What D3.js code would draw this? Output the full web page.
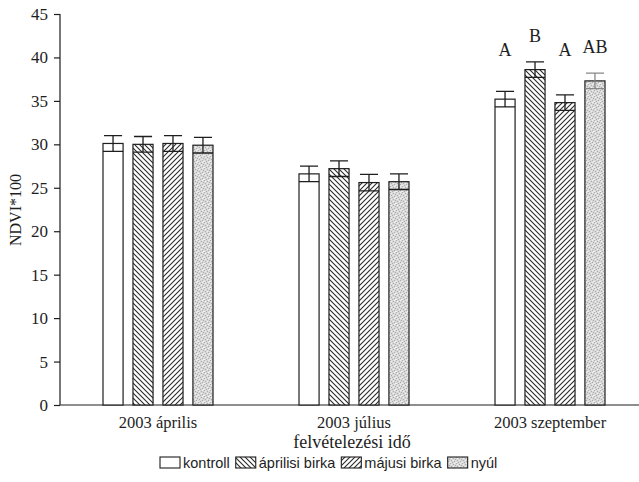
<!DOCTYPE html>
<html><head><meta charset="utf-8">
<script src="https://cdn.jsdelivr.net/npm/d3@7/dist/d3.min.js"></script>
<style>body{margin:0;background:#fff}svg{display:block}</style>
</head><body>
<svg id="c" width="639" height="482"></svg>
<script>
const groups = ["2003 április", "2003 július", "2003 szeptember"];
const series = ["kontroll", "áprilisi birka", "májusi birka", "nyúl"];
const means = [
  [30.1, 30.0, 30.1, 29.9],
  [26.6, 27.2, 25.6, 25.7],
  [35.2, 38.6, 34.8, 37.3]
];
const errs = [
  [0.9, 0.9, 0.9, 0.9],
  [0.9, 0.9, 0.95, 0.9],
  [0.9, 0.9, 0.9, 0.9]
];
const letters = [
  [null, null, null, null],
  [null, null, null, null],
  ["A", "B", "A", "AB"]
];
const yTicks = [0, 5, 10, 15, 20, 25, 30, 35, 40, 45];

const svg = d3.select("#c");
const ink = "#1e1e1e";
const defs = svg.append("defs");
function hatch(id, dir) {
  const p = defs.append("pattern").attr("id", id).attr("patternUnits", "userSpaceOnUse")
    .attr("width", 5).attr("height", 5);
  p.append("rect").attr("width", 5).attr("height", 5).attr("fill", "#fff");
  const d = dir > 0 ? "M-1,6 L6,-1 M-1,1 L1,-1 M4,6 L6,4" : "M-1,-1 L6,6 M-1,4 L1,6 M4,-1 L6,1";
  p.append("path").attr("d", d).attr("stroke", "#2a2a2a").attr("stroke-width", 1.1);
}
hatch("hBack", -1);
hatch("hFwd", 1);
const sp = defs.append("pattern").attr("id", "stip").attr("patternUnits", "userSpaceOnUse")
  .attr("width", 6).attr("height", 6);
sp.append("rect").attr("width", 6).attr("height", 6).attr("fill", "#d9d9d9");
[[0,0],[3,1],[1,3],[4,4],[2,5],[5,2]].forEach(([a,b]) =>
  sp.append("rect").attr("x", a).attr("y", b).attr("width", 1).attr("height", 1).attr("fill", "#ababab"));
[[1,1],[4,0],[0,5],[3,3],[5,5]].forEach(([a,b]) =>
  sp.append("rect").attr("x", a).attr("y", b).attr("width", 1).attr("height", 1).attr("fill", "#f0f0f0"));
const fills = ["#fff", "url(#hBack)", "url(#hFwd)", "url(#stip)"];

const x0 = d3.scaleBand().domain(groups).range([60, 648]);
const x1 = d3.scaleBand().domain(series).range([-55, 55]).paddingInner(0.33);
const y = d3.scaleLinear().domain([0, 45]).range([405, 14]);

// y axis
const yAxis = d3.axisLeft(y).tickValues(yTicks).tickSize(6).tickPadding(6);
const ya = svg.append("g").attr("transform", "translate(60,0)").call(yAxis);
ya.select(".domain").attr("stroke", ink).attr("stroke-width", 1.2).attr("d", "M-6,14.5H0V405");
ya.selectAll(".tick line").attr("stroke", ink).attr("stroke-width", 1.2);
ya.selectAll(".tick text").attr("font-family", "Liberation Serif").attr("font-size", 17).attr("fill", ink);

// x axis
const xa = svg.append("g").attr("transform", "translate(0,405)")
  .call(d3.axisBottom(x0).tickSize(0).tickPadding(11));
xa.select(".domain").attr("stroke", ink).attr("stroke-width", 1.2).attr("d", "M60,0H639");
xa.selectAll(".tick text").attr("font-family", "Liberation Serif").attr("font-size", 16.5).attr("fill", ink);

// bars
const rows = [];
groups.forEach((g, gi) => series.forEach((s, si) =>
  rows.push({g, s, si, m: means[gi][si], e: errs[gi][si], l: letters[gi][si]})));
const bw = x1.bandwidth();
const bx = d => x0(d.g) + x0.bandwidth() / 2 + x1(d.s);
const gBars = svg.append("g");
gBars.selectAll("rect").data(rows).join("rect")
  .attr("x", bx).attr("y", d => y(d.m)).attr("width", bw).attr("height", d => y(0) - y(d.m))
  .attr("fill", d => fills[d.si]).attr("stroke", ink).attr("stroke-width", 1.2);
// error bars
const eb = svg.append("g").attr("stroke", ink).attr("stroke-width", 1.3).attr("fill", "none");
eb.selectAll("path").data(rows).join("path")
  .attr("stroke", d => d.si === 3 && d.g === groups[2] ? "#888" : ink)
  .attr("d", d => {
    const c = bx(d) + bw / 2, t = y(d.m + d.e), b = y(d.m - d.e), hw = bw * 0.45;
    return `M${c - hw},${t}H${c + hw}M${c},${t}V${b}M${bx(d)},${b}H${bx(d) + bw}`;
  });
// letters
svg.append("g").selectAll("text").data(rows.filter(d => d.l)).join("text")
  .attr("x", d => bx(d) + bw / 2)
  .attr("y", d => Math.min(y(d.m + d.e) - 20, y(40.2)))
  .attr("text-anchor", "middle").attr("font-family", "Liberation Serif").attr("font-size", 18)
  .attr("fill", ink).text(d => d.l);

// axis titles
svg.append("text").attr("transform", "translate(21,210) rotate(-90)")
  .attr("text-anchor", "middle").attr("font-family", "Liberation Serif").attr("font-size", 16)
  .attr("fill", ink).text("NDVI*100");
svg.append("text").attr("x", 352).attr("y", 448).attr("text-anchor", "middle")
  .attr("font-family", "Liberation Serif").attr("font-size", 18).attr("fill", ink)
  .text("felvételezési idő");

// legend
const leg = svg.append("g").attr("transform", "translate(0,457)");
let lx = 160;
series.forEach((s, i) => {
  leg.append("rect").attr("x", lx).attr("y", 0).attr("width", 20).attr("height", 11)
    .attr("fill", fills[i]).attr("stroke", ink).attr("stroke-width", 1.1);
  const t = leg.append("text").attr("x", lx + 23).attr("y", 10.5)
    .attr("font-family", "Liberation Sans").attr("font-size", 14.5).attr("fill", ink).text(s);
  lx += 23 + t.node().getComputedTextLength() + 6;
});
</script>
</body></html>
